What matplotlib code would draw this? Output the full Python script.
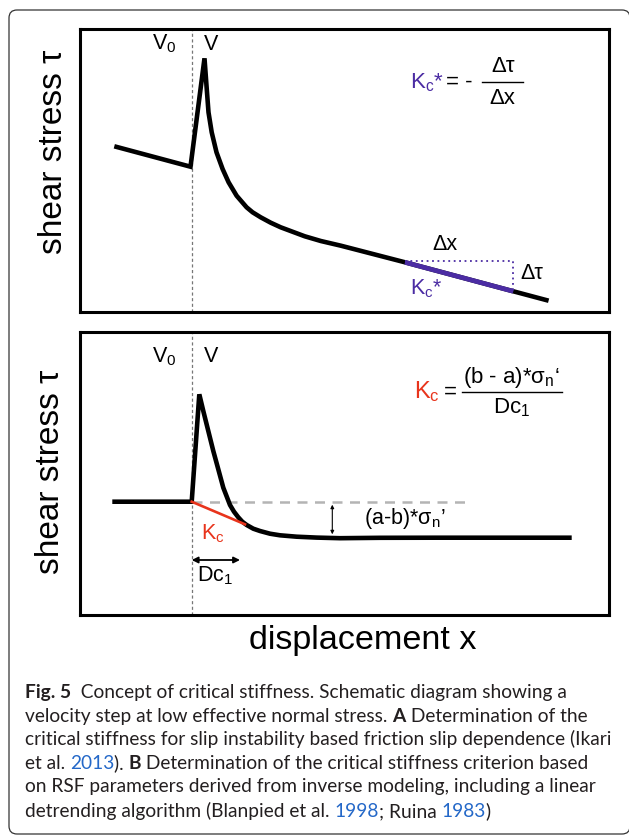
import matplotlib
matplotlib.use("Agg")
import matplotlib.pyplot as plt
from matplotlib.patches import FancyBboxPatch

plt.rcParams['font.family'] = ['Liberation Sans', 'DejaVu Sans']
plt.rcParams['mathtext.fontset'] = 'custom'
plt.rcParams['mathtext.rm'] = 'Liberation Sans'
plt.rcParams['mathtext.it'] = 'Liberation Sans:italic'

W, H = 629, 835

# panel A: velocity step, peak, then slip weakening (schematic units)
a_disp = [34.3, 110.5, 124.5, 126.5, 128.5, 131.7, 136.5, 142.6, 148.6, 156.6,
          166.6, 172.6, 180.7, 190.7, 200.7, 224.8, 240.8, 260.9, 325.0, 433.3, 468.6]
a_tau = [165.7, 145.3, 253.7, 226.3, 199.7, 179.7, 159.7, 143.0, 129.7, 116.3,
         104.7, 99.7, 94.7, 89.3, 84.7, 75.7, 71.0, 66.3, 49.7, 20.7, 11.3]
a_slope_disp = [325.0, 433.3]
a_slope_tau = [49.7, 20.7]

# panel B: velocity step with new steady state
b_disp = [32.3, 111.7, 119.3, 123.3, 128.3, 133.3, 138.3, 143.3, 150.0, 154.0,
          158.3, 162.3, 166.7, 173.3, 180.0, 190.0, 200.0, 216.7, 236.7, 260.0,
          300.0, 356.7, 491.7]
b_tau = [113.3, 113.3, 220.7, 204.0, 184.0, 164.0, 145.7, 127.3, 110.0, 103.3,
         97.7, 93.3, 90.0, 86.3, 84.0, 81.3, 79.7, 78.3, 77.4, 76.8,
         77.2, 77.3, 77.3]
b_ss_old = 113.3
b_ss_new = 80.7
b_kc_disp = [111.7, 165.0]
b_kc_tau = [113.3, 90.7]
step_disp = 111.7
dc1_end = 160.0

purple = '#4b2ca3'
red = '#e8341c'

caption = [
    [("Fig. 5", 'bold', None), ("  Concept of critical stiffness. Schematic diagram showing a", 'normal', None)],
    [("velocity step at low effective normal stress. ", 'normal', None), ("A", 'bold', None),
     (" Determination of the", 'normal', None)],
    [("critical stiffness for slip instability based friction slip dependence (Ikari", 'normal', None)],
    [("et al. ", 'normal', None), ("2013", 'normal', 'blue'), ("). ", 'normal', None), ("B", 'bold', None),
     (" Determination of the critical stiffness criterion based", 'normal', None)],
    [("on RSF parameters derived from inverse modeling, including a linear", 'normal', None)],
    [("detrending algorithm (Blanpied et al. ", 'normal', None), ("1998", 'normal', 'blue'),
     ("; Ruina ", 'normal', None), ("1983", 'normal', 'blue'), (")", 'normal', None)],
]

fig = plt.figure(figsize=(W / 100, H / 100), dpi=100)


def fx(x):
    return x / W


def fy(y):
    return 1 - y / H


# outer rounded frame
frame = FancyBboxPatch((9 / 100, (H - 834) / 100), 621 / 100, 824 / 100,
                       boxstyle="round,pad=0,rounding_size=0.08",
                       transform=fig.dpi_scale_trans, fill=False,
                       ec='#333333', lw=0.9)
fig.patches.append(frame)


def panel(top):
    ax = fig.add_axes([fx(80), fy(top + 283), 529 / W, 283 / H])
    ax.set_xlim(0, 529)
    ax.set_ylim(0, 283)
    ax.set_xticks([])
    ax.set_yticks([])
    for s in ax.spines.values():
        s.set_linewidth(2.2)
    ax.axvline(step_disp, color='#777777', lw=0.9, ls=(0, (2.5, 2)))
    return ax


axA = panel(29)
axB = panel(332)

fs_small = 15.5
fs_eq = 16

# ---- panel A ----
axA.plot(a_disp, a_tau, color='k', lw=3.3, solid_joinstyle='miter', solid_capstyle='butt')
axA.plot(a_slope_disp, a_slope_tau, color=purple, lw=3.4, solid_capstyle='butt')
axA.plot([a_slope_disp[0], a_slope_disp[1], a_slope_disp[1]],
         [a_slope_tau[0] + 1.6, a_slope_tau[0] + 1.6, a_slope_tau[1]],
         color=purple, lw=1.3, ls=(0, (1, 2)))
axA.text(84, 268, r"V$_\mathregular{0}$", fontsize=fs_small, ha='center', va='center')
axA.text(131, 268, "V", fontsize=fs_small, ha='center', va='center')
axA.text(365, 67, "Δx", fontsize=fs_small, ha='center', va='center')
axA.text(452, 38.7, "Δτ", fontsize=fs_small, ha='center', va='center')
axA.text(346.7, 23.7, r"K$_\mathregular{c}$*", fontsize=fs_small, ha='center', va='center', color=purple)
axA.text(330, 229.7, r"K$_\mathregular{c}$*", fontsize=fs_eq, ha='left', va='center', color=purple)
axA.text(366, 229.7, "= -", fontsize=fs_eq, ha='left', va='center')
axA.plot([401.7, 443.3], [229.7, 229.7], color='k', lw=1.0)
axA.text(422.7, 245.5, "Δτ", fontsize=fs_eq, ha='center', va='center')
axA.text(422.7, 213.5, "Δx", fontsize=fs_eq, ha='center', va='center')

# ---- panel B ----
axB.plot([step_disp, 386.7], [b_ss_old, b_ss_old], color='#b4b4b4', lw=1.8, ls=(0, (4, 3)))
axB.plot(b_disp, b_tau, color='k', lw=3.3, solid_joinstyle='miter', solid_capstyle='butt')
axB.plot(b_kc_disp, b_kc_tau, color=red, lw=1.9)
axB.text(84, 258, r"V$_\mathregular{0}$", fontsize=fs_small, ha='center', va='center')
axB.text(131, 259, "V", fontsize=fs_small, ha='center', va='center')
axB.text(133.3, 81.7, r"K$_\mathregular{c}$", fontsize=fs_small, ha='center', va='center', color=red)
axB.annotate("", xy=(dc1_end, 55), xytext=(step_disp, 55),
             arrowprops=dict(arrowstyle="<|-|>", lw=1.3, color='k', mutation_scale=9,
                             shrinkA=0, shrinkB=0))
axB.text(135, 39, r"Dc$_\mathregular{1}$", fontsize=fs_small, ha='center', va='center')
axB.annotate("", xy=(252.3, b_ss_new), xytext=(252.3, b_ss_old - 3),
             arrowprops=dict(arrowstyle="<|-|>", lw=0.8, color='k', mutation_scale=5,
                             shrinkA=0, shrinkB=0))
axB.text(284, 96.7, r"(a-b)*σ$_\mathregular{n}$’", fontsize=fs_small, ha='left', va='center')
axB.text(334, 223.3, r"K$_\mathregular{c}$", fontsize=fs_eq + 1, ha='left', va='center', color=red)
axB.text(370, 223.3, "=", fontsize=fs_eq, ha='center', va='center')
axB.plot([381.7, 481.7], [223.3, 223.3], color='k', lw=1.0)
axB.text(431.7, 238, r"(b - a)*σ$_\mathregular{n}$‘", fontsize=fs_eq, ha='center', va='center')
axB.text(431.7, 207, r"Dc$_\mathregular{1}$", fontsize=fs_eq, ha='center', va='center')

# ---- big labels ----
fig.text(fx(54), fy(152), "shear stress τ", fontsize=24, rotation=90, ha='center', va='center')
fig.text(fx(51), fy(472), "shear stress τ", fontsize=24, rotation=90, ha='center', va='center')
fig.text(fx(363), fy(641), "displacement x", fontsize=24.6, ha='center', va='center')

# ---- caption ----
renderer = fig.canvas.get_renderer()
cap_font = 'Lato'
cap_size = 13.8


def run_width(s, weight):
    t1 = fig.text(0, 0, "|" + s + "|", fontsize=cap_size, family=cap_font, weight=weight)
    t2 = fig.text(0, 0, "||", fontsize=cap_size, family=cap_font, weight=weight)
    w = t1.get_window_extent(renderer).width - t2.get_window_extent(renderer).width
    t1.remove()
    t2.remove()
    return w


baselines = [698, 722, 745, 769, 792, 817]
for runs, yb in zip(caption, baselines):
    x = 25.0
    for s, weight, col in runs:
        c = '#2468c8' if col == 'blue' else '#231f20'
        fig.text(fx(x), fy(yb), s, fontsize=cap_size, family=cap_font, weight=weight,
                 color=c, va='baseline', ha='left')
        x += run_width(s, weight)

fig.savefig("out.png", dpi=100)
